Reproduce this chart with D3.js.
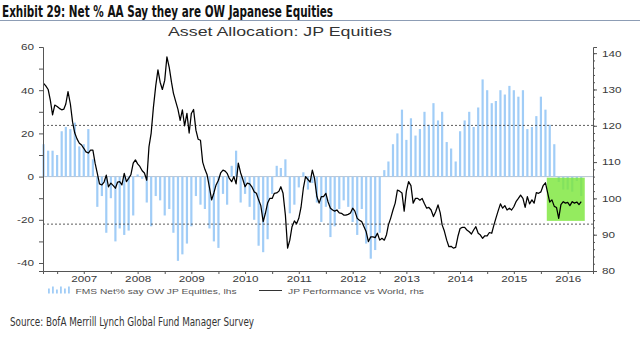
<!DOCTYPE html>
<html>
<head>
<meta charset="utf-8">
<script src="https://cdn.jsdelivr.net/npm/d3@7"></script>
<style>
body { margin: 0; background: #fff; }
svg { display: block; }
</style>
</head>
<body>
<svg id="chart"></svg>
<script>
// FMS net % of asset allocators overweight JP equities, monthly from Oct 2006 (lhs)
let fmsNet = [
    15, 12, 12, 10, 21, 23, 22, 25, 14, 15, 22, 8,
    -14, -9, -26, -10, -30, -24, -27, -25, -18, 1, -1, -12,
    -23, -9, -11, -18, -15, -26, -39, -36, -31, -23, -9, -13,
    -15, -24, -30, -33, -8, -13, 5, 12, -12, -8, -14, -20,
    -32, -35, -29, -8, 5, 4, 8, -17, -13, -5, 2, -6,
    -3, -12, -21, -14, -28, -23, -15, -11, -14, -21, -27, -15,
    -31, -38, -34, -26, 3, 7, 15, 20, 31, 17, 27, 19,
    22, 30, 24, 34, 26, 30, 16, 13, 7, 21, 26, 30,
    23, 32, 45, 40, 34, 35, 40, 38, 42, 40, 37, 40,
    22, 23, 28, 37, 31, 24, 15, -2.5, -6, -6, -7, -2,
    -9
];

// JP performance vs world (rhs), two readings a month (1st and 16th) from Oct 2006
let jpPerf = [
    131.7, 131, 130, 127, 123, 125.7, 125.3, 124.8, 124.4, 124.6, 126, 129.4,
    126, 121, 118, 116.4, 115.2, 114.7, 113.8, 112.8, 112.5, 113.3, 113.3, 109.7,
    106.9, 104, 103.7, 104.5, 106.4, 103.2, 104.2, 103.6, 102.8, 104.5, 104.6, 103.7,
    106.9, 104.6, 105.5, 106.5, 109.7, 110.6, 109.5, 108.8, 107.6, 107, 105, 114.2,
    118, 125, 131, 135.4, 132, 130, 132.5, 139, 136, 132, 129, 126.8,
    124.5, 121.5, 124.4, 120, 123.4, 118, 123.4, 124.5, 118.8, 116.3, 116, 110,
    108, 106.5, 103, 99.6, 101.5, 103.7, 105, 107, 107.8, 107.5, 106.9, 105.5,
    104.6, 106, 104, 109.7, 107, 105.2, 103.2, 104.2, 104, 103.2, 101.8, 101.4,
    99.6, 98, 93.6, 95.9, 98.7, 100, 100, 101.4, 101.5, 102, 103.2, 101.4,
    95.4, 86.3, 88.5, 92.2, 93.8, 93, 94.5, 97.5, 102.8, 106, 105.2, 104.5,
    107.8, 105.5, 100.5, 98.7, 100.5, 100.5, 101.4, 99, 97.3, 96.8, 96.5, 96.8,
    96, 95.9, 95.4, 95.4, 95.6, 96, 97.3, 96.5, 94.5, 94, 93.6, 92.2,
    90.8, 88.1, 89.4, 89.4, 89.2, 90.4, 88.5, 89, 88.5, 90, 92.7, 94.5,
    96.8, 98.7, 102.3, 102, 101.5, 96.5, 102, 104.6, 103.5, 98.7, 100, 100,
    99.5, 100, 98.5, 97.3, 97.5, 96.8, 95, 96.3, 98.2, 96, 92.7, 91,
    88.5, 86.7, 86.8, 86.3, 86.5, 89.5, 91.7, 92, 92, 91.3, 90.8, 90.2,
    91.3, 92.2, 90.4, 89.9, 89, 89.7, 89.7, 90.6, 90.4, 92.7, 94.5, 96.5,
    98.5, 97.3, 98, 96.8, 97.3, 96.8, 97.7, 99.1, 100, 100.9, 100, 97.5,
    100.5, 98.5, 99.6, 98.7, 101.6, 101.4, 101.8, 103.5, 104.3, 101.5, 99, 99.6,
    97.8, 97.5, 94.5, 98.3, 99.1, 98.7, 98.9, 98, 99.1, 98.7, 99, 98.3,
    99.1
];

// +/- 1 st dev lines of the FMS series (lhs units)
let fmsBands = [23.7, -22];
let years = [2007, 2008, 2009, 2010, 2011, 2012, 2013, 2014, 2015, 2016];
let leftLabels = [-40, -20, 0, 20, 40, 60];
let rightLabels = [80, 90, 100, 110, 120, 130, 140];
// recent period highlighted in green (dates, lhs units)
let hlFrom = new Date(2016, 1, 10);
let hlTo = new Date(2016, 9, 25);
let hlRange = [-0.5, -20.5];

let width = 640, height = 340;
let margin = {top: 47, right: 47, bottom: 69, left: 43};
let innerW = width - margin.left - margin.right;
let innerH = height - margin.top - margin.bottom;
let axisFont = "'Liberation Sans', Arial, sans-serif";
let axisColor = "#555";

function monthDate(i) {
    return new Date(2006, 9 + i, 1);
}

function halfMonthDate(h) {
    return new Date(2006, 9 + Math.floor(h / 2), h % 2 ? 16 : 1);
}

// the source picture is a bit wider than tall, so text is stretched sideways
function stretch(sel, k) {
    sel.each(function () {
        let w = this.getComputedTextLength();
        d3.select(this).attr("textLength", w * k).attr("lengthAdjust", "spacingAndGlyphs");
    });
}

let root = d3.select("#chart")
    .attr("width", width)
    .attr("height", height);

// header
root.append("text")
    .attr("x", 2)
    .attr("y", 16.5)
    .attr("font-family", "'Liberation Sans Narrow', 'DejaVu Sans Condensed', sans-serif")
    .attr("font-weight", "bold")
    .attr("font-size", 16)
    .attr("fill", "#111")
    .attr("textLength", 331)
    .attr("lengthAdjust", "spacingAndGlyphs")
    .text("Exhibit 29: Net % AA Say they are OW Japanese Equities");

root.append("line")
    .attr("x1", 0).attr("x2", width)
    .attr("y1", 20.5).attr("y2", 20.5)
    .attr("stroke", "#8d9db5")
    .attr("stroke-width", 1);

root.append("text")
    .attr("x", 168)
    .attr("y", 36)
    .attr("font-family", axisFont)
    .attr("font-size", 13.5)
    .attr("fill", "#333")
    .attr("textLength", 224)
    .attr("lengthAdjust", "spacingAndGlyphs")
    .text("Asset Allocation: JP Equities");

let svg = root.append("g")
    .attr("transform", "translate(" + margin.left + "," + margin.top + ")");

let x = d3.scaleTime()
    .domain([new Date(2006, 8, 27), new Date(2016, 11, 20)])
    .range([0, innerW]);

let yL = d3.scaleLinear()
    .domain([-43.7, 60])
    .range([innerH, 0]);

let yR = d3.scaleLinear()
    .domain([80, 141.7])
    .range([innerH, 0]);

// zero line
svg.append("line")
    .attr("x1", 0).attr("x2", innerW)
    .attr("y1", yL(0)).attr("y2", yL(0))
    .attr("stroke", "#b9c3cf")
    .attr("stroke-width", 1);

// bars
let barW = 2.2;
svg.append("g")
    .selectAll("rect")
    .data(fmsNet)
    .join("rect")
    .attr("x", (d, i) => x(monthDate(i)) - barW / 2)
    .attr("y", d => yL(Math.max(0, d)))
    .attr("width", barW)
    .attr("height", d => Math.abs(yL(d) - yL(0)))
    .attr("fill", "#a1cdf7");

// std dev lines
svg.append("g")
    .selectAll("line")
    .data(fmsBands)
    .join("line")
    .attr("x1", 0).attr("x2", innerW)
    .attr("y1", d => yL(d)).attr("y2", d => yL(d))
    .attr("stroke", "#333")
    .attr("stroke-width", 0.8)
    .attr("stroke-dasharray", "2,2");

// green highlight over the latest months
svg.append("rect")
    .attr("x", x(hlFrom))
    .attr("y", yL(hlRange[0]))
    .attr("width", x(hlTo) - x(hlFrom))
    .attr("height", yL(hlRange[1]) - yL(hlRange[0]))
    .attr("fill", "#7de63c")
    .attr("opacity", 0.82);

// performance line
let line = d3.line()
    .x((d, i) => x(halfMonthDate(i)))
    .y(d => yR(d));

svg.append("path")
    .datum(jpPerf)
    .attr("fill", "none")
    .attr("stroke", "#000")
    .attr("stroke-width", 1.25)
    .attr("stroke-linejoin", "round")
    .attr("d", line);

// left axis
svg.append("g")
    .call(d3.axisLeft(yL)
        .tickValues(d3.range(-40, 61, 10))
        .tickSize(4)
        .tickPadding(5)
        .tickFormat(d => leftLabels.includes(d) ? d : ""));

// right axis, minor ticks first
svg.append("g")
    .attr("transform", "translate(" + innerW + ",0)")
    .call(d3.axisRight(yR)
        .tickValues(d3.range(80, 141, 2))
        .tickSize(2)
        .tickFormat(""))
    .call(g => g.select(".domain").remove());

svg.append("g")
    .attr("transform", "translate(" + innerW + ",0)")
    .call(d3.axisRight(yR)
        .tickValues(rightLabels)
        .tickSize(4)
        .tickPadding(5));

// bottom axis: half-year tick marks, labels mid-year
let halfYears = [];
for (let yr = 2007; yr <= 2016; yr++) {
    halfYears.push(new Date(yr, 0, 1));
    halfYears.push(new Date(yr, 6, 1));
}

svg.append("g")
    .attr("transform", "translate(0," + innerH + ")")
    .call(d3.axisBottom(x)
        .tickValues(halfYears)
        .tickSize(3)
        .tickFormat(""));

let bottomLabels = svg.append("g")
    .attr("transform", "translate(0," + innerH + ")")
    .call(d3.axisBottom(x)
        .tickValues(years.map(yr => new Date(yr, 6, 1)))
        .tickSize(0)
        .tickPadding(5)
        .tickFormat(d3.timeFormat("%Y")));
bottomLabels.select(".domain").remove();

svg.selectAll(".domain")
    .attr("stroke", axisColor);
svg.selectAll(".tick line")
    .attr("stroke", axisColor);
svg.selectAll(".tick text")
    .attr("font-family", axisFont)
    .attr("font-size", 9)
    .attr("fill", "#3a3a3a");
svg.selectAll(".tick text").call(stretch, 1.3);

// legend
let legend = root.append("g")
    .attr("transform", "translate(0,293.5)");

let iconBars = [5, 7, 4, 7, 5, 7];
legend.selectAll("rect")
    .data(iconBars)
    .join("rect")
    .attr("x", (d, i) => 48 + i * 4)
    .attr("y", d => -d)
    .attr("width", 1.8)
    .attr("height", d => d)
    .attr("fill", "#a1cdf7");

legend.append("text")
    .attr("x", 75.5)
    .attr("font-family", axisFont)
    .attr("font-size", 8)
    .attr("fill", "#555")
    .attr("textLength", 161)
    .attr("lengthAdjust", "spacingAndGlyphs")
    .text("FMS Net% say OW JP Equities, lhs");

legend.append("line")
    .attr("x1", 259).attr("x2", 282)
    .attr("y1", -3).attr("y2", -3)
    .attr("stroke", "#333")
    .attr("stroke-width", 1);

legend.append("text")
    .attr("x", 288)
    .attr("font-family", axisFont)
    .attr("font-size", 8)
    .attr("fill", "#555")
    .attr("textLength", 136)
    .attr("lengthAdjust", "spacingAndGlyphs")
    .text("JP Performance vs World, rhs");

// source
root.append("text")
    .attr("x", 10)
    .attr("y", 326)
    .attr("font-family", "'Liberation Sans Narrow', 'DejaVu Sans Condensed', sans-serif")
    .attr("font-size", 12)
    .attr("fill", "#333")
    .attr("textLength", 244)
    .attr("lengthAdjust", "spacingAndGlyphs")
    .text("Source: BofA Merrill Lynch Global Fund Manager Survey");
</script>
</body>
</html>
